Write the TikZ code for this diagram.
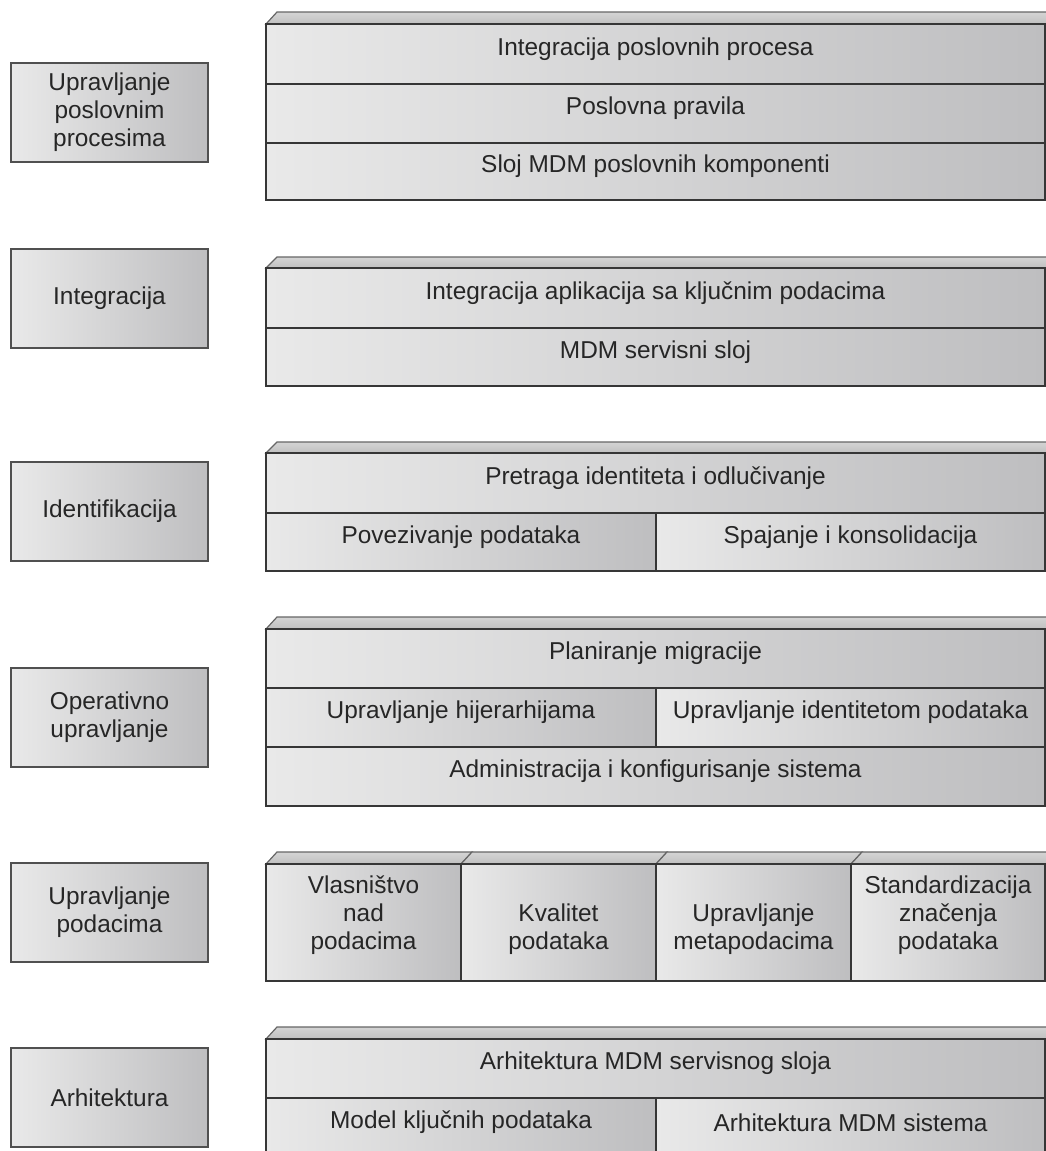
\documentclass[tikz,border=0pt]{standalone}
\usepackage{fontspec}
\setmainfont{Liberation Sans}
\definecolor{linec}{HTML}{363636}
\definecolor{labline}{HTML}{505050}
\definecolor{shL}{HTML}{E9E9E9}
\definecolor{shR}{HTML}{BEBEC0}
\definecolor{bvT}{HTML}{D4D4D4}
\definecolor{bvB}{HTML}{C0C0C0}
\definecolor{bevline}{HTML}{666666}
\definecolor{txtc}{HTML}{262626}
\begin{document}
\begin{tikzpicture}[x=1pt,y=-1pt,
  cell/.style={draw=linec, line width=1.7pt, left color=shL, right color=shR,
    anchor=north west, inner sep=0pt, outer sep=0pt},
  lab/.style={cell, draw=labline, line width=2pt, minimum width=197, minimum height=99},
  txt/.style={text=txtc, font=\fontsize{24.4}{28}\selectfont, align=center, inner sep=0pt},
  bevel/.style={draw=bevline, line width=1.2pt, top color=bvT, bottom color=bvB}]
\useasboundingbox (0,0) rectangle (1046,1151);
\clip (0,0) rectangle (1046,1151);

% ---------- left labels ----------
\node[lab] (l1) at (11,63) {};
\node[txt] (tl1) at (l1.center) {Upravljanje\\poslovnim\\procesima};
\node[lab] (l2) at (11,249) {};
\node[txt] (tl2) at (l2.center) {Integracija};
\node[lab] (l3) at (11,462) {};
\node[txt] (tl3) at (l3.center) {Identifikacija};
\node[lab] (l4) at (11,668) {};
\node[txt] (tl4) at (l4.center) {Operativno\\upravljanje};
\node[lab] (l5) at (11,863) {};
\node[txt] (tl5) at (l5.center) {Upravljanje\\podacima};
\node[lab] (l6) at (11,1048) {};
\node[txt] (tl6) at (l6.center) {Arhitektura};

% ---------- stack 1 ----------
\draw[bevel] (266,24) -- (277,12) -- (1060,12) -- (1048,24) -- cycle;
\node[cell, minimum width=779, minimum height=60] (a1) at (266,24) {};
\node[cell, minimum width=779, minimum height=59] (a2) at (266,84) {};
\node[cell, minimum width=779, minimum height=57] (a3) at (266,143) {};
\node[txt] (ta1) at ([yshift=5]a1.center) {Integracija poslovnih procesa};
\node[txt] (ta2) at ([yshift=5]a2.center) {Poslovna pravila};
\node[txt] (ta3) at ([yshift=5]a3.center) {Sloj MDM poslovnih komponenti};

% ---------- stack 2 ----------
\draw[bevel] (266,268) -- (277,257) -- (1060,257) -- (1048,268) -- cycle;
\node[cell, minimum width=779, minimum height=60] (b1) at (266,268) {};
\node[cell, minimum width=779, minimum height=58] (b2) at (266,328) {};
\node[txt] (tb1) at ([yshift=5]b1.center) {Integracija aplikacija sa ključnim podacima};
\node[txt] (tb2) at ([yshift=5]b2.center) {MDM servisni sloj};

% ---------- stack 3 ----------
\draw[bevel] (266,453) -- (277,442) -- (1060,442) -- (1048,453) -- cycle;
\node[cell, minimum width=779, minimum height=60] (c1) at (266,453) {};
\node[cell, minimum width=390, minimum height=58] (c2) at (266,513) {};
\node[cell, minimum width=389, minimum height=58] (c3) at (656,513) {};
\node[txt] (tc1) at ([yshift=5]c1.center) {Pretraga identiteta i odlučivanje};
\node[txt] (tc2) at ([yshift=5]c2.center) {Povezivanje podataka};
\node[txt] (tc3) at ([yshift=5]c3.center) {Spajanje i konsolidacija};

% ---------- stack 4 ----------
\draw[bevel] (266,629) -- (277,617) -- (1060,617) -- (1048,629) -- cycle;
\node[cell, minimum width=779, minimum height=59] (d1) at (266,629) {};
\node[cell, minimum width=390, minimum height=59] (d2) at (266,688) {};
\node[cell, minimum width=389, minimum height=59] (d3) at (656,688) {};
\node[cell, minimum width=779, minimum height=59] (d4) at (266,747) {};
\node[txt] (td1) at ([yshift=5]d1.center) {Planiranje migracije};
\node[txt] (td2) at ([yshift=5]d2.center) {Upravljanje hijerarhijama};
\node[txt] (td3) at ([yshift=5]d3.center) {Upravljanje identitetom podataka};
\node[txt] (td4) at ([yshift=5]d4.center) {Administracija i konfigurisanje sistema};

% ---------- stack 5 ----------
\draw[bevel] (266,864) -- (277,852) -- (472,852) -- (461,864) -- cycle;
\draw[bevel] (461,864) -- (472,852) -- (667,852) -- (656,864) -- cycle;
\draw[bevel] (656,864) -- (667,852) -- (862,852) -- (851,864) -- cycle;
\draw[bevel] (851,864) -- (862,852) -- (1060,852) -- (1048,864) -- cycle;
\node[cell, minimum width=195, minimum height=117] (e1) at (266,864) {};
\node[cell, minimum width=195, minimum height=117] (e2) at (461,864) {};
\node[cell, minimum width=195, minimum height=117] (e3) at (656,864) {};
\node[cell, minimum width=194, minimum height=117] (e4) at (851,864) {};
\node[txt] (te1) at ([yshift=7]e1.center) {Vlasništvo\\nad\\podacima};
\node[txt] (te2) at ([yshift=-7]e2.center) {Kvalitet\\podataka};
\node[txt] (te3) at ([yshift=-7]e3.center) {Upravljanje\\metapodacima};
\node[txt] (te4) at ([yshift=7]e4.center) {Standardizacija\\značenja\\podataka};

% ---------- stack 6 ----------
\draw[bevel] (266,1039) -- (277,1027) -- (1060,1027) -- (1048,1039) -- cycle;
\node[cell, minimum width=779, minimum height=59] (f1) at (266,1039) {};
\node[cell, minimum width=390, minimum height=59] (f2) at (266,1098) {};
\node[cell, minimum width=389, minimum height=59] (f3) at (656,1098) {};
\node[txt] (tf1) at ([yshift=5]f1.center) {Arhitektura MDM servisnog sloja};
\node[txt] (tf2) at ([yshift=5]f2.center) {Model ključnih podataka};
\node[txt] (tf3) at ([yshift=5]f3.center) {Arhitektura MDM sistema};
\end{tikzpicture}
\end{document}
